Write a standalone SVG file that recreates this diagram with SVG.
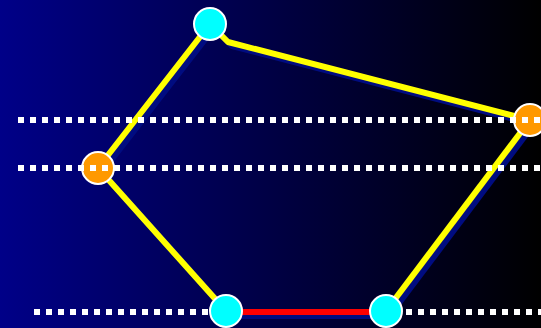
<svg xmlns="http://www.w3.org/2000/svg" width="541" height="328" viewBox="0 0 541 328">
<defs>
<linearGradient id="bg" x1="0" y1="0" x2="1" y2="0">
<stop offset="0" stop-color="#000088"/>
<stop offset="1" stop-color="#000000"/>
</linearGradient>
<style>
.shadow{fill:none;stroke:#000c80;stroke-width:6;stroke-linejoin:round}
.edge{fill:none;stroke:#ffff00;stroke-width:6;stroke-linejoin:round}
.red{fill:none;stroke:#ff0000;stroke-width:6}
.dots{stroke:#ffffff;stroke-width:6;stroke-dasharray:6 6;fill:none}
.cyan{fill:#00ffff;stroke:#ffffff;stroke-width:2}
.orange{fill:#ff9900;stroke:#ffffff;stroke-width:2}
</style>
</defs>
<rect width="541" height="328" fill="url(#bg)"/>
<g id="gridline-bottom">
<line class="dots" x1="34" y1="312" x2="541" y2="312"/>
</g>
<g id="connectors">
<g transform="translate(4,4)">
<polyline class="shadow" points="530,120 228,42 210,24 98,168 226,311"/>
<line class="shadow" x1="386" y1="311" x2="530" y2="120"/>
<line class="shadow" x1="226" y1="312" x2="386" y2="312"/>
</g>
<polyline class="edge" points="530,120 228,42 210,24 98,168 226,311"/>
<line class="edge" x1="386" y1="311" x2="530" y2="120"/>
<line class="red" x1="226" y1="312" x2="386" y2="312"/>
</g>
<g id="n_left"><circle class="orange" cx="98" cy="168" r="16"/></g>
<g id="n_right"><circle class="orange" cx="530" cy="120" r="16"/></g>
<g id="gridlines">
<line class="dots" x1="18" y1="120" x2="541" y2="120"/>
<line class="dots" x1="18" y1="168" x2="541" y2="168"/>
</g>
<g id="n_top"><circle class="cyan" cx="210" cy="24" r="16"/></g>
<g id="n_bl"><circle class="cyan" cx="226" cy="311" r="16"/></g>
<g id="n_br"><circle class="cyan" cx="386" cy="311" r="16"/></g>
</svg>
